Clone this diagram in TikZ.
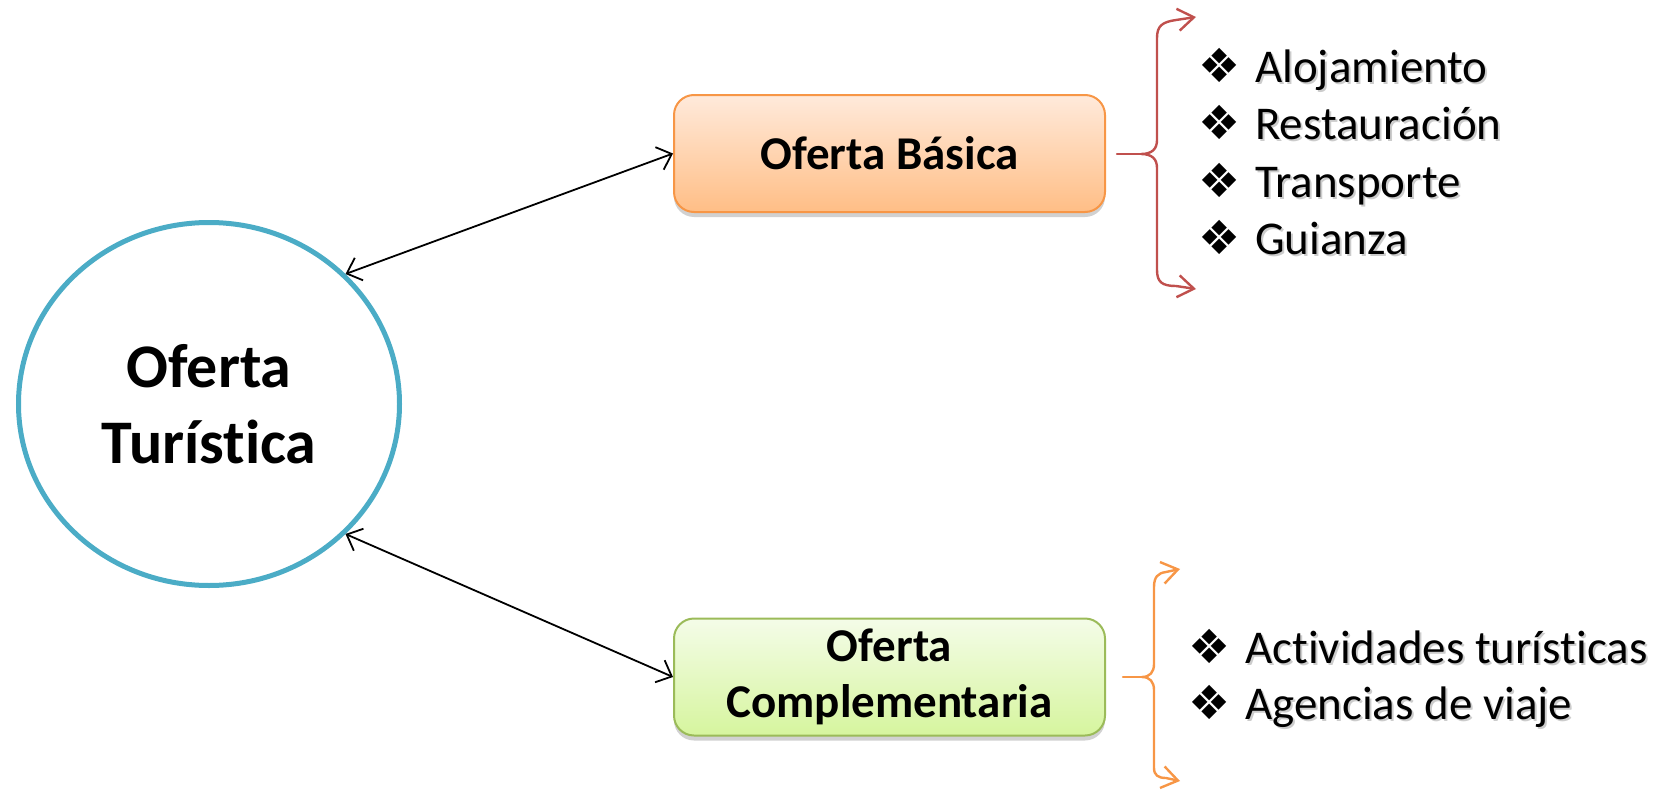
\documentclass[tikz,border=0pt]{standalone}
\usepackage{fontspec}
\setmainfont[Ligatures=NoCommon]{Carlito}
\newfontfamily\symfont{DejaVu Sans}
\usetikzlibrary{arrows.meta,shapes.geometric,shadows}
\definecolor{circblue}{HTML}{4BACC6}
\definecolor{obdraw}{HTML}{F79646}
\definecolor{obtop}{HTML}{FFEADB}
\definecolor{obbot}{HTML}{FFBE86}
\definecolor{ocdraw}{HTML}{9BBB59}
\definecolor{octop}{HTML}{F4FCE8}
\definecolor{ocbot}{HTML}{D6F59E}
\definecolor{bracered}{HTML}{C0504D}
\definecolor{braceorange}{HTML}{F79646}
\newcommand{\shtext}[1]{\rlap{\hspace{2pt}\raisebox{-2pt}{\color{black!20}#1}}#1}
\newcommand{\itemline}[1]{\makebox[57pt][l]{\symfont ❖}\shtext{#1}}
\tikzset{
  x=1pt, y=-1pt,
  conn/.style={black, line width=1.8pt,
    {Straight Barb[length=13pt,width=24pt]}-{Straight Barb[length=13pt,width=24pt]}},
  bracepath/.style={line width=2.4pt, line cap=round, line join=round,
    {Straight Barb[length=16pt,width=22pt]}-{Straight Barb[length=16pt,width=22pt]}},
  stubpath/.style={line width=2.4pt, line cap=round},
  boxbase/.style={rectangle, rounded corners=20pt, line width=2pt,
    minimum width=431pt, minimum height=117pt, align=center,
    font=\bfseries\fontsize{47}{56}\selectfont,
    drop shadow={shadow xshift=0pt, shadow yshift=-5pt, opacity=0.3, fill=black!60}},
  basicbox/.style={boxbase, draw=obdraw, top color=obtop, bottom color=obbot},
  compbox/.style={boxbase, draw=ocdraw, top color=octop, bottom color=ocbot},
  listitem/.style={anchor=base west, inner sep=0pt, font=\fontsize{47}{56}\selectfont},
}
\begin{document}
\begin{tikzpicture}
\useasboundingbox (0,0) rectangle (1660,792);
% central ellipse
\node[ellipse, draw=circblue, line width=5pt, minimum width=381pt, minimum height=363pt,
      align=center, font=\bfseries\fontsize{62}{76}\selectfont] (ot) at (209,404) {Oferta\\Turística};
% boxes
\node[basicbox] (ob) at (889.5,153.5) {Oferta Básica};
\node[compbox] (oc) at (889.5,677) {Oferta\\Complementaria};
% connectors
\coordinate (ot1) at (345.5,274);
\coordinate (ot2) at (345.5,534);
\draw[conn] (ot1) -- (ob.west);
\draw[conn] (ot2) -- (oc.west);
% upper brace
\coordinate (bt1) at (1196,17);
\coordinate (bb1) at (1196,289);
\coordinate (bs1) at (1117,154);
\draw[bracered, bracepath] (bt1) -- (1176,20) .. controls (1162,22) and (1157,26) .. (1157,38)
   -- (1157,140) .. controls (1157,149) and (1152,154) .. (1141,154)
   .. controls (1152,154) and (1157,159) .. (1157,168)
   -- (1157,270) .. controls (1157,282) and (1162,286) .. (1176,286) -- (bb1);
\draw[bracered, stubpath] (bs1) -- (1141,154);
% lower brace
\coordinate (bt2) at (1180,569);
\coordinate (bb2) at (1180,781);
\coordinate (bs2) at (1123,677);
\draw[braceorange, bracepath] (bt2) -- (1166,572) .. controls (1158,573) and (1154,577) .. (1154,587)
   -- (1154,664) .. controls (1154,672) and (1150,677) .. (1142,677)
   .. controls (1150,677) and (1154,682) .. (1154,690)
   -- (1154,768) .. controls (1154,775) and (1158,778) .. (1166,778) -- (bb2);
\draw[braceorange, stubpath] (bs2) -- (1142,677);
% lists
\node[listitem] (l1) at (1198,82) {\itemline{Alojamiento}};
\node[listitem] (l2) at (1198,139) {\itemline{Restauración}};
\node[listitem] (l3) at (1198,197) {\itemline{Transporte}};
\node[listitem] (l4) at (1198,254) {\itemline{Guianza}};
\node[listitem] (m1) at (1188,663) {\itemline{Actividades turísticas}};
\node[listitem] (m2) at (1188,719) {\itemline{Agencias de viaje}};
\end{tikzpicture}
\end{document}
